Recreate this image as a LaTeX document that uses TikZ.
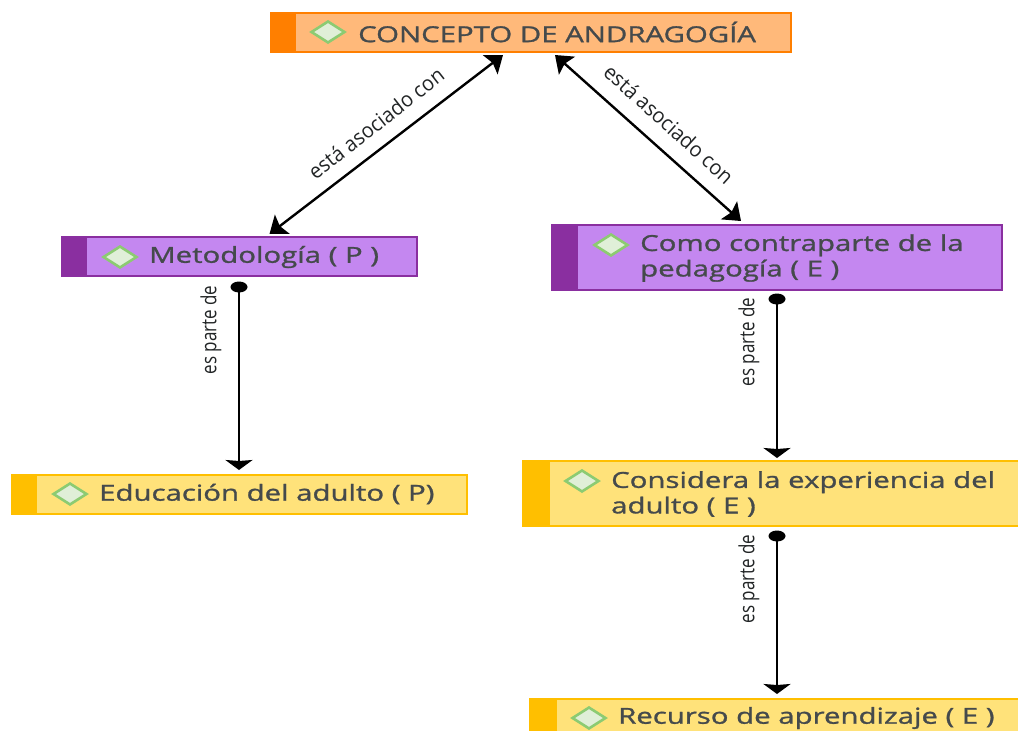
\documentclass[tikz,border=0pt]{standalone}
\usepackage{fontspec}
\usetikzlibrary{arrows.meta,shapes.geometric}
\newfontfamily\boxfont[FakeStretch=1.335,FakeBold=1.2]{Open Sans}
\newfontfamily\linkfont[FakeStretch=0.95]{Open Sans}
\newfontfamily\partfont[FakeStretch=0.81]{Open Sans}
\definecolor{ink}{HTML}{454A4C}
\definecolor{orangeb}{HTML}{FF7F00}
\definecolor{orangef}{HTML}{FFB97A}
\definecolor{purpleb}{HTML}{8A2FA0}
\definecolor{purplef}{HTML}{C487F0}
\definecolor{yellowb}{HTML}{FFBF00}
\definecolor{yellowf}{HTML}{FFE27A}
\definecolor{diamondb}{HTML}{8CCB72}
\definecolor{diamondf}{HTML}{E0EFD8}
\tikzset{
  x=1pt,y=-1pt,
  concept/.style={draw=#1,line width=2pt,anchor=north west,inner sep=0pt,outer sep=0pt},
  band/.style={fill=#1,draw=none,anchor=north west,inner sep=0pt,outer sep=0pt},
  badge/.style={diamond,aspect=1.55,draw=diamondb,fill=diamondf,line width=2.6pt,minimum width=34pt,minimum height=22pt,inner sep=0pt},
  boxtext/.style={anchor=west,align=left,text=ink,font=\boxfont\fontsize{22}{25.5}\selectfont,inner sep=0pt},
  linktext/.style={text=ink!50!black,font=\linkfont\fontsize{21}{22}\selectfont,inner sep=0pt},
  parttext/.style={text=ink!50!black,font=\partfont\fontsize{21}{22}\selectfont,inner sep=0pt},
  bothway/.style={line width=2.4pt,{Stealth[length=16pt,width=24pt,inset=3pt]}-{Stealth[length=16pt,width=24pt,inset=3pt]}},
  partof/.style={line width=2.4pt,-{Stealth[length=10pt,width=27pt,inset=1pt]}},
  dotend/.style={ellipse,fill=black,minimum width=17pt,minimum height=11pt,inner sep=0pt}
}
\begin{document}
\begin{tikzpicture}
\useasboundingbox (0,0) rectangle (1018,731);
\clip (0,0) rectangle (1018,731);
% boxes
\node[concept=orangeb,fill=orangef,minimum width=520pt,minimum height=39pt] (top) at (271,13) {};
\node[band=orangeb,minimum width=26pt,minimum height=41pt] (topb) at (270,12) {};
\node[badge] (topd) at (328,32) {};
\node[boxtext] (topt) at (358,32) {CONCEPTO DE ANDRAGOGÍA};

\node[concept=purpleb,fill=purplef,minimum width=355pt,minimum height=39pt] (met) at (62,237) {};
\node[band=purpleb,minimum width=26pt,minimum height=41pt] (metb) at (61,236) {};
\node[badge] (metd) at (120,257) {};
\node[boxtext] (mett) at (149,257) {Metodología ( P )};

\node[concept=purpleb,fill=purplef,minimum width=450pt,minimum height=65pt] (con) at (552,225) {};
\node[band=purpleb,minimum width=27pt,minimum height=67pt] (conb) at (551,224) {};
\node[badge] (cond) at (611,245) {};
\node[boxtext] (cont) at (640,258) {Como contraparte de la\\pedagogía ( E )};

\node[concept=yellowb,fill=yellowf,minimum width=455pt,minimum height=39pt] (edu) at (12,475) {};
\node[band=yellowb,minimum width=26pt,minimum height=41pt] (edub) at (11,474) {};
\node[badge] (edud) at (70,494) {};
\node[boxtext] (edut) at (99,494) {Educación del adulto ( P)};

\node[concept=yellowb,fill=yellowf,minimum width=500pt,minimum height=65pt] (exp) at (523,461) {};
\node[band=yellowb,minimum width=28pt,minimum height=66pt] (expb) at (522,460) {};
\node[badge] (expd) at (582,481) {};
\node[boxtext] (expt) at (611,494) {Considera la experiencia del\\adulto ( E )};

\node[concept=yellowb,fill=yellowf,minimum width=495pt,minimum height=40pt] (rec) at (530,699) {};
\node[band=yellowb,minimum width=28pt,minimum height=41pt] (recb) at (529,698) {};
\node[badge] (recd) at (589,718) {};
\node[boxtext] (rect) at (618,718) {Recurso de aprendizaje ( E )};

% connectors
\draw[bothway] ([xshift=-28pt,yshift=-3pt]top.south) -- ([xshift=30pt,yshift=3pt]met.north);
\draw[bothway] ([xshift=24pt,yshift=-3pt]top.south) -- ([xshift=-36pt,yshift=4pt]con.north);

\node[dotend] (d1) at (239,287) {};
\node[dotend] (d2) at (777,299) {};
\node[dotend] (d3) at (777,536) {};
\draw[partof] (d1.center) -- ([xshift=-0.5pt,yshift=5pt]edu.north);
\draw[partof] (d2.center) -- ([xshift=4pt,yshift=3pt]exp.north);
\draw[partof] (d3.center) -- ([xshift=-0.5pt,yshift=5pt]rec.north);

% labels
\node[linktext,rotate=38] (l1) at (376,123) {está asociado con};
\node[linktext,rotate=-42] (l2) at (669,124) {está asociado con};
\node[parttext,rotate=90] (l3) at (211,330) {es parte de};
\node[parttext,rotate=90] (l4) at (749,342) {es parte de};
\node[parttext,rotate=90] (l5) at (749,579) {es parte de};
\end{tikzpicture}
\end{document}
